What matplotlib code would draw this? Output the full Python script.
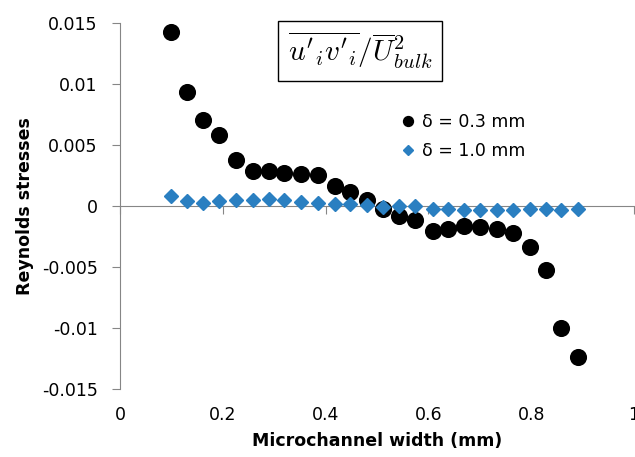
import matplotlib
matplotlib.use('Agg')
import matplotlib.pyplot as plt
from matplotlib.ticker import FuncFormatter

plt.rcParams['font.family'] = ['DejaVu Sans']
plt.rcParams['mathtext.fontset'] = 'cm'

# channel positions (mm)
width_mm = [0.099, 0.131, 0.162, 0.192, 0.226, 0.258, 0.289, 0.320, 0.352, 0.385,
            0.418, 0.448, 0.481, 0.512, 0.543, 0.574, 0.608, 0.639, 0.670, 0.701,
            0.733, 0.764, 0.797, 0.828, 0.858, 0.892]
# Reynolds stresses for delta = 0.3 mm
stress_03 = [0.01432, 0.00933, 0.0071, 0.00587, 0.00382, 0.00292, 0.00284, 0.00273,
             0.00265, 0.00257, 0.00169, 0.00115, 0.00052, -0.00027, -0.00084, -0.00111,
             -0.00205, -0.00185, -0.00166, -0.00172, -0.00185, -0.00218, -0.00335,
             -0.00526, -0.00998, -0.01236]
# Reynolds stresses for delta = 1.0 mm
stress_10 = [0.00079, 0.00038, 0.00025, 0.00038, 0.00049, 0.00049, 0.0006, 0.00047,
             0.00036, 0.00025, 0.0002, 0.0002, 0.00008, -0.00008, -0.00002, 0.0,
             -0.0002, -0.00027, -0.0003, -0.00033, -0.0003, -0.0003, -0.0002,
             -0.00024, -0.0003, -0.0002]

x_ticks = [0, 0.2, 0.4, 0.6, 0.8, 1]
y_ticks = [-0.015, -0.01, -0.005, 0, 0.005, 0.01, 0.015]

fig = plt.figure(figsize=(6.35, 4.57), dpi=100)
ax = fig.add_axes([120/635, 0.149, 514/635, 0.80])

ax.plot(width_mm, stress_03, 'o', color='black', markersize=11.3, label='δ = 0.3 mm', zorder=3)
ax.plot(width_mm, stress_10, 'D', color='#2a7fc1', markersize=7.5, label='δ = 1.0 mm', zorder=4)

ax.set_xlim(0, 1)
ax.set_ylim(-0.015, 0.015)
ax.set_yticks(y_ticks)
ax.yaxis.set_major_formatter(FuncFormatter(lambda v, p: '%g' % round(v, 4)))
ax.set_xticks(x_ticks)
ax.xaxis.set_major_formatter(FuncFormatter(lambda v, p: '%g' % v))

gray = '#868686'
for s in ['top', 'right', 'bottom']:
    ax.spines[s].set_visible(False)
ax.spines['left'].set_color(gray)
ax.tick_params(axis='y', direction='out', length=6, color=gray, labelsize=12.5, pad=10)
ax.tick_params(axis='x', length=0, labelsize=12.5, pad=12)

# axis line crossing at y = 0 with its own ticks
sec = ax.secondary_xaxis(0.5)
sec.set_alignment('bottom')
sec.set_xticks(x_ticks)
sec.tick_params(direction='out', length=6, color=gray, labelbottom=False, labeltop=False)
sec.spines['bottom'].set_color(gray)

ax.set_xlabel('Microchannel width (mm)', fontsize=12.5, fontweight='bold', labelpad=6)
ax.set_ylabel('Reynolds stresses', fontsize=12.5, fontweight='bold')
ax.yaxis.set_label_coords(-0.168, 0.5)

ax.text(0.467, 0.925, r"$\overline{u'{}_{i}v'{}_{i}}/\overline{U}^{2}_{bulk}$",
        transform=ax.transAxes, ha='center', va='center', fontsize=21,
        bbox=dict(boxstyle='square,pad=0.32', fc='white', ec='black', lw=1))

ax.legend(loc='upper left', bbox_to_anchor=(0.543, 0.755), frameon=False, fontsize=12.5,
          markerscale=0.63, handletextpad=0.3, handlelength=1.0, labelspacing=0.65,
          borderpad=0, borderaxespad=0)

fig.savefig('out.png', dpi=100)
